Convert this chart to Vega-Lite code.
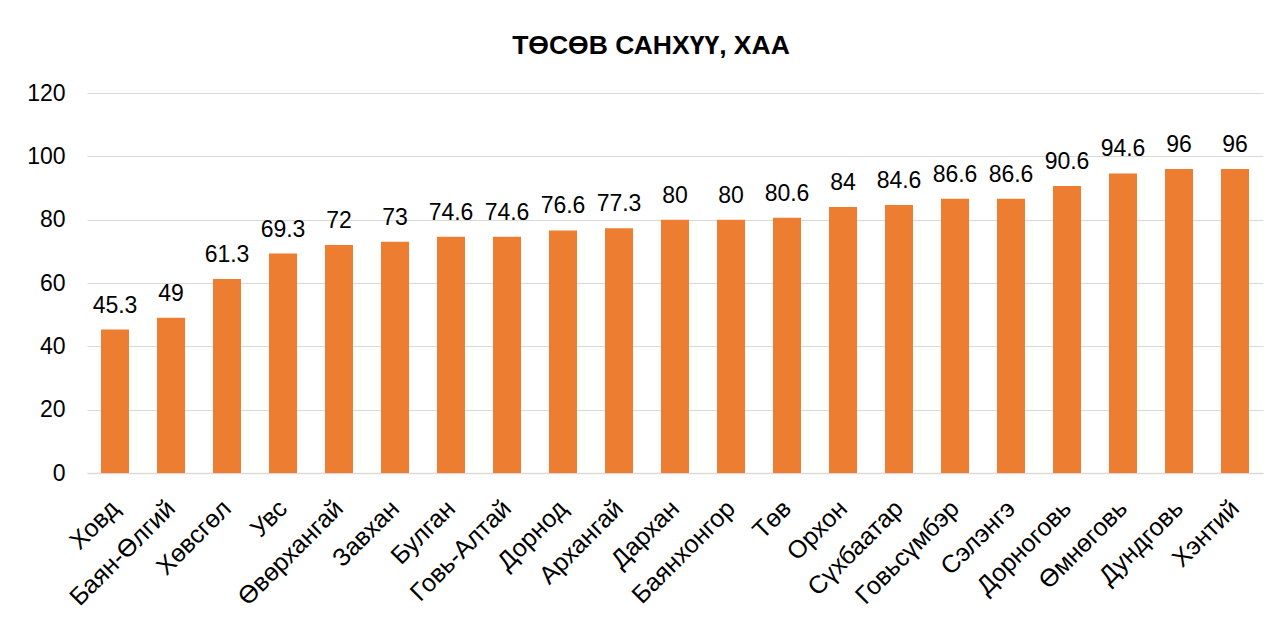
{
  "$schema": "https://vega.github.io/schema/vega-lite/v6.json",
  "width": 1176,
  "height": 380,
  "autosize": {"type": "none"},
  "padding": {"left": 87, "top": 93, "right": 20, "bottom": 154},
  "background": "white",
  "config": {
    "font": "Liberation Sans",
    "view": {"stroke": null}
  },
  "title": {
    "text": "ТӨСӨВ САНХҮҮ, ХАА",
    "font": "Liberation Sans",
    "fontSize": 26.5,
    "fontWeight": "bold",
    "color": "#000000",
    "anchor": "middle",
    "dx": -24,
    "offset": 2,
    "baseline": "alphabetic"
  },
  "data": {
    "values": [
      {"aimag": "Ховд", "value": 45.3},
      {"aimag": "Баян-Өлгий", "value": 49},
      {"aimag": "Хөвсгөл", "value": 61.3},
      {"aimag": "Увс", "value": 69.3},
      {"aimag": "Өвөрхангай", "value": 72},
      {"aimag": "Завхан", "value": 73},
      {"aimag": "Булган", "value": 74.6},
      {"aimag": "Говь-Алтай", "value": 74.6},
      {"aimag": "Дорнод", "value": 76.6},
      {"aimag": "Архангай", "value": 77.3},
      {"aimag": "Дархан", "value": 80},
      {"aimag": "Баянхонгор", "value": 80},
      {"aimag": "Төв", "value": 80.6},
      {"aimag": "Орхон", "value": 84},
      {"aimag": "Сүхбаатар", "value": 84.6},
      {"aimag": "Говьсүмбэр", "value": 86.6},
      {"aimag": "Сэлэнгэ", "value": 86.6},
      {"aimag": "Дорноговь", "value": 90.6},
      {"aimag": "Өмнөговь", "value": 94.6},
      {"aimag": "Дундговь", "value": 96},
      {"aimag": "Хэнтий", "value": 96}
    ]
  },
  "encoding": {
    "x": {
      "field": "aimag",
      "type": "nominal",
      "sort": null,
      "scale": {"paddingInner": 0.5, "paddingOuter": 0.25},
      "axis": {
        "title": null,
        "labelAngle": -45,
        "labelAlign": "right",
        "labelBaseline": "middle",
        "labelFontSize": 25,
        "labelColor": "#000000",
        "labelPadding": 31,
        "labelDx": -3,
        "ticks": false,
        "domainColor": "#D9D9D9",
        "domainWidth": 1.5,
        "labelOverlap": false
      }
    },
    "y": {
      "field": "value",
      "type": "quantitative",
      "scale": {"domain": [0, 120]},
      "axis": {
        "title": null,
        "values": [0, 20, 40, 60, 80, 100, 120],
        "labelFontSize": 23,
        "labelColor": "#000000",
        "labelPadding": 22,
        "ticks": false,
        "domain": false,
        "gridColor": "#D9D9D9",
        "gridWidth": 1.2
      }
    }
  },
  "layer": [
    {"mark": {"type": "bar", "color": "#ED7D31"}},
    {
      "mark": {"type": "text", "fontSize": 23, "color": "#000000", "baseline": "alphabetic", "dy": -17},
      "encoding": {"text": {"field": "value", "type": "quantitative"}}
    }
  ]
}
